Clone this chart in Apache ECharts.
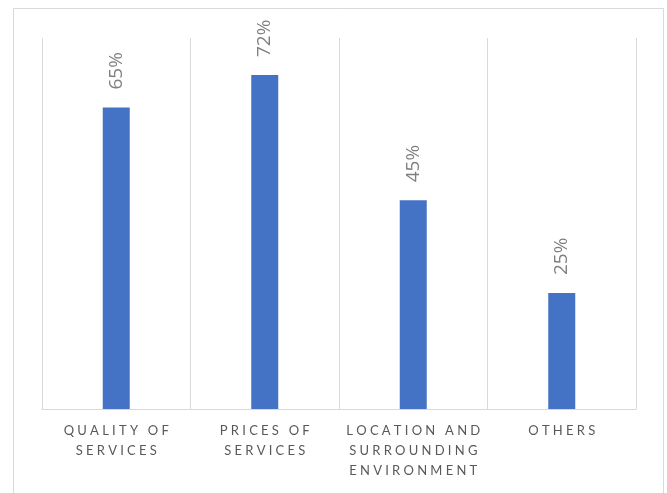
<!DOCTYPE html>
<html><head><meta charset="utf-8">
<script src="https://cdn.jsdelivr.net/npm/echarts@6/dist/echarts.min.js"></script>
<style>html,body{margin:0;padding:0;background:#fff}#c{width:667px;height:493px}</style>
</head><body><div id="c"></div>
<script>
const categories = ["QUALITY OF\nSERVICES", "PRICES OF\nSERVICES", "LOCATION AND\nSURROUNDING\nENVIRONMENT", "OTHERS"];
const values = [65, 72, 45, 25];
const yMax = 80;

function spaced(s) {
  const gap = "\u2009\u200A\u200A";
  return s.split("\n").map(line => line.split("").join(gap)).join("\n");
}

const chart = echarts.init(document.getElementById('c'), null, {renderer: 'canvas'});
chart.setOption({
  animation: false,
  backgroundColor: '#ffffff',
  graphic: [{
    type: 'rect', silent: true,
    shape: {x: 13.5, y: 8.5, width: 650, height: 500},
    style: {fill: 'none', stroke: '#d9d9d9', lineWidth: 1}
  }],
  grid: {left: 42, right: 31, top: 38, bottom: 84},
  xAxis: {
    type: 'category',
    data: categories,
    axisLine: {lineStyle: {color: '#d9d9d9', width: 1}},
    axisTick: {show: false},
    splitLine: {show: true, lineStyle: {color: '#d9d9d9', width: 1}},
    axisLabel: {
      interval: 0, margin: 12, color: '#595959', fontSize: 13, lineHeight: 20,
      fontFamily: 'Lato',
      formatter: v => spaced(v)
    }
  },
  yAxis: {
    type: 'value', min: 0, max: yMax, interval: 10,
    show: false, splitLine: {show: false}
  },
  series: [{
    type: 'bar',
    data: values,
    barWidth: 27,
    itemStyle: {color: '#4472c4'},
    label: {
      show: true, position: 'top', distance: 18, rotate: 90,
      align: 'left', verticalAlign: 'middle',
      color: '#7f7f7f', fontSize: 19, fontFamily: 'Open Sans',
      formatter: p => p.value + '%'
    }
  }]
});
</script></body></html>
